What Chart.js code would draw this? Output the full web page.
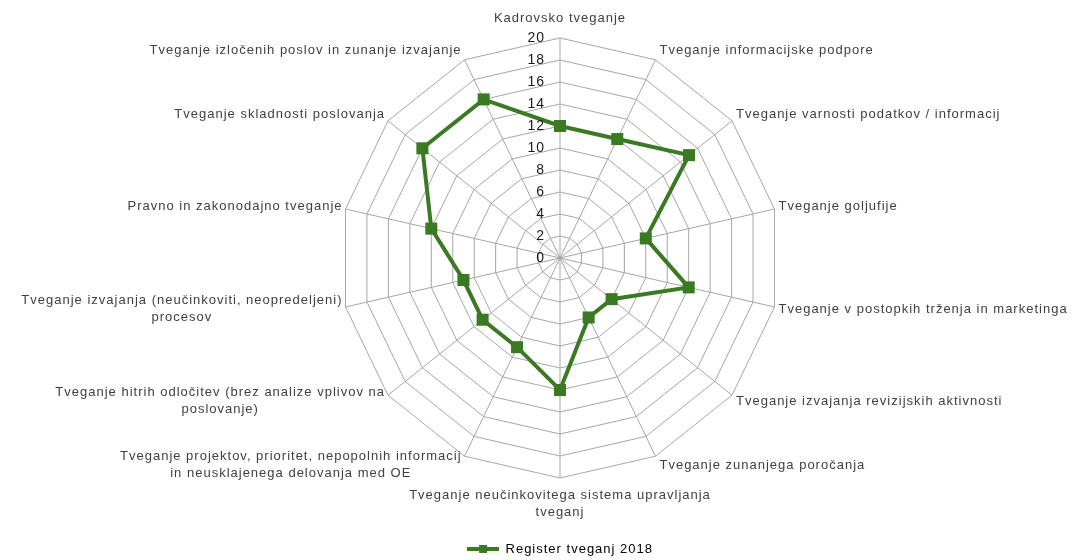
<!DOCTYPE html>
<html>
<head>
<meta charset="utf-8">
<script src="https://cdn.jsdelivr.net/npm/chart.js@4"></script>
<style>
  html, body { margin: 0; padding: 0; background: #fff; }
  #wrap { width: 1080px; height: 560px; }
</style>
</head>
<body>
<div id="wrap"><canvas id="radar"></canvas></div>
<script>
// categories (multi-line labels as arrays)
const categories = [
  'Kadrovsko tveganje',
  'Tveganje informacijske podpore',
  'Tveganje varnosti podatkov / informacij',
  'Tveganje goljufije',
  'Tveganje v postopkih trženja in marketinga',
  'Tveganje izvajanja revizijskih aktivnosti',
  'Tveganje zunanjega poročanja',
  ['Tveganje neučinkovitega sistema upravljanja', 'tveganj'],
  ['Tveganje projektov, prioritet, nepopolnih informacij', 'in neusklajenega delovanja med OE'],
  ['Tveganje hitrih odločitev (brez analize vplivov na', 'poslovanje)'],
  ['Tveganje izvajanja (neučinkoviti, neopredeljeni)', 'procesov'],
  'Pravno in zakonodajno tveganje',
  'Tveganje skladnosti poslovanja',
  'Tveganje izločenih poslov in zunanje izvajanje'
];
const seriesName = 'Register tveganj 2018';
const register2018 = [12, 12, 15, 8, 12, 6, 6, 12, 9, 9, 9, 12, 16, 16];
const tickValues = [0, 2, 4, 6, 8, 10, 12, 14, 16, 18, 20];

const green = '#3a7a22';
const textFont = "'Liberation Sans', Arial, sans-serif";

// legend icon: line with a square marker
const icon = document.createElement('canvas');
icon.width = 32; icon.height = 10;
const ic = icon.getContext('2d');
ic.strokeStyle = green; ic.lineWidth = 4;
ic.beginPath(); ic.moveTo(0, 5); ic.lineTo(32, 5); ic.stroke();
ic.fillStyle = green; ic.fillRect(12, 1, 8, 8);

// Excel-like loose letter spacing
const spacing = {
  id: 'spacing',
  beforeLayout(chart) { chart.ctx.letterSpacing = '1px'; },
  beforeDraw(chart) { chart.ctx.letterSpacing = '1px'; }
};

// tick labels left of the vertical axis
const tickLabels = {
  id: 'tickLabels',
  afterDatasetsDraw(chart) {
    const r = chart.scales.r;
    const ctx = chart.ctx;
    ctx.save();
    ctx.letterSpacing = '1px';
    ctx.font = '14px ' + textFont;
    ctx.fillStyle = '#1a1a1a';
    ctx.textAlign = 'right';
    ctx.textBaseline = 'middle';
    tickValues.forEach(v => {
      const p = r.getPointPositionForValue(0, v);
      ctx.fillText(String(v), p.x - 15, p.y);
    });
    ctx.restore();
  }
};

// category labels placed the way Excel does it (blocks centred on the spoke end)
const categoryLabels = {
  id: 'categoryLabels',
  afterDraw(chart) {
    const r = chart.scales.r;
    const ctx = chart.ctx;
    const lh = 17;
    ctx.save();
    ctx.letterSpacing = '1px';
    ctx.font = '13px ' + textFont;
    ctx.fillStyle = '#404040';
    ctx.textBaseline = 'middle';
    ctx.textAlign = 'center';
    categories.forEach((lab, i) => {
      const lines = Array.isArray(lab) ? lab : [lab];
      const a = r.getIndexAngle(i);
      const p = r.getPointPosition(i, r.drawingArea);
      const w = Math.max(...lines.map(t => ctx.measureText(t).width));
      const sin = Math.sin(a), cos = Math.cos(a);
      let cx, cy;
      if (Math.abs(sin) < 0.01) {
        cx = p.x;
        cy = cos > 0 ? p.y - 20 : p.y + 17 + (lines.length - 1) * lh / 2;
      } else {
        cx = sin > 0 ? p.x + 4 + w / 2 : p.x - 3 - w / 2;
        cy = p.y - cos * 10;
      }
      lines.forEach((t, k) => {
        ctx.fillText(t, cx, cy - (lines.length - 1) * lh / 2 + k * lh);
      });
    });
    ctx.restore();
  }
};

new Chart(document.getElementById('radar'), {
  type: 'radar',
  data: {
    labels: categories,
    datasets: [{
      label: seriesName,
      data: register2018,
      borderColor: green,
      backgroundColor: green,
      borderWidth: 4,
      fill: false,
      tension: 0,
      pointStyle: 'rect',
      pointRadius: 8.5,
      pointHoverRadius: 8.5,
      pointBackgroundColor: green,
      pointBorderColor: green,
      pointBorderWidth: 0
    }]
  },
  options: {
    responsive: true,
    maintainAspectRatio: false,
    animation: false,
    layout: { padding: { top: 0, bottom: -5.5, left: 340, right: 300 } },
    plugins: {
      tooltip: { enabled: false },
      legend: {
        position: 'bottom',
        labels: {
          usePointStyle: true,
          pointStyleWidth: 32,
          color: '#404040',
          font: { family: textFont, size: 13 },
          padding: 26.5,
          generateLabels: (chart) => [{
            text: seriesName,
            pointStyle: icon,
            fillStyle: green,
            strokeStyle: green,
            lineWidth: 0,
            datasetIndex: 0
          }]
        }
      }
    },
    scales: {
      r: {
        min: 0,
        max: 20,
        ticks: { stepSize: 2, display: false },
        grid: { color: '#a6a6a6', lineWidth: 1 },
        angleLines: { color: '#a6a6a6', lineWidth: 1 },
        pointLabels: { display: false }
      }
    }
  },
  plugins: [spacing, tickLabels, categoryLabels]
});
</script>
</body>
</html>
